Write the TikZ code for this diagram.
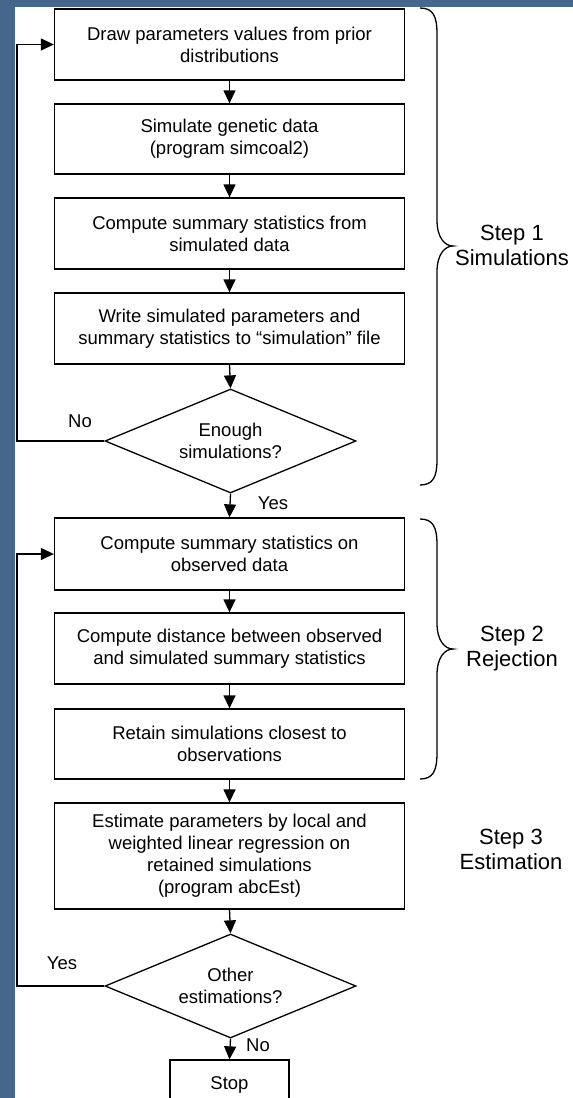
\documentclass[tikz,border=0pt]{standalone}
\usepackage{fontspec}
\setmainfont{Liberation Sans}
\usetikzlibrary{shapes.geometric,arrows.meta}
\definecolor{framecol}{RGB}{70,102,140}
\begin{document}
\begin{tikzpicture}[x=1pt,y=-1pt,
  box/.style={draw, line width=1.3pt, minimum width=350pt, align=center, inner sep=0pt, font=\fontsize{18.5}{22}\selectfont},
  dec/.style={draw, diamond, line width=1.3pt, minimum width=251pt, minimum height=104pt, inner sep=0pt},
  dectext/.style={align=center, inner sep=0pt, font=\fontsize{18.5}{22}\selectfont},
  arr/.style={line width=1.3pt, -{Triangle[length=13pt,width=12pt]}},
  lbl/.style={font=\fontsize{18.5}{22}\selectfont, inner sep=0pt},
  steplbl/.style={font=\fontsize{22}{25}\selectfont, align=center, inner sep=0pt},
  bracestyle/.style={line width=1.3pt}]
\useasboundingbox (0,0) rectangle (573,1098);
\clip (0,0) rectangle (573,1098);
\fill[white] (0,0) rectangle (573,1098);
\fill[framecol] (0,0) rectangle (15,1098);
\fill[framecol] (0,0) rectangle (573,7);

\node[box, minimum height=71pt] (b1) at (229.5,44.5) {Draw parameters values from prior\\distributions};
\node[box, minimum height=70pt] (b2) at (229.5,139) {Simulate genetic data\\(program simcoal2)};
\node[box, minimum height=71pt] (b3) at (229.5,233.5) {Compute summary statistics from\\simulated data};
\node[box, minimum height=71pt] (b4) at (229.5,328.5) {Write simulated parameters and\\summary statistics to “simulation” file};
\node[dec] (d1) at (230.5,441) {};
\node[dectext] (d1t) at (d1.center) {Enough\\simulations?};
\node[box, minimum height=72pt] (b5) at (229.5,554) {Compute summary statistics on\\observed data};
\node[box, minimum height=71pt] (b6) at (229.5,648.5) {Compute distance between observed\\and simulated summary statistics};
\node[box, minimum height=70pt] (b7) at (229.5,744) {Retain simulations closest to\\observations};
\node[box, minimum height=106pt] (b8) at (229.5,856) {Estimate parameters by local and\\weighted linear regression on\\retained simulations\\(program abcEst)};
\node[dec] (d2) at (230.5,986) {};
\node[dectext] (d2t) at (d2.center) {Other\\estimations?};
\node[box, minimum width=119pt, minimum height=50pt] (stop) at (229.5,1085) {Stop};

\draw[arr] (b1.south) -- (b2.north);
\draw[arr] (b2.south) -- (b3.north);
\draw[arr] (b3.south) -- (b4.north);
\draw[arr] (b4.south) -- (d1.north);
\draw[arr] (d1.south) -- (b5.north);
\draw[arr] (b5.south) -- (b6.north);
\draw[arr] (b6.south) -- (b7.north);
\draw[arr] (b7.south) -- (b8.north);
\draw[arr] (b8.south) -- (d2.north);
\draw[arr] (d2.south) -- (stop.north);

\coordinate (fb) at (17,0);
\draw[arr] (d1.west) -- (d1.west -| fb) |- (b1.west);
\draw[arr] (d2.west) -- (d2.west -| fb) |- (b5.west);

\node[lbl] (no1) at (80,421) {No};
\node[lbl] (yes1) at (273,503) {Yes};
\node[lbl] (yes2) at (62,963) {Yes};
\node[lbl] (no2) at (258,1045) {No};

% braces
\draw[bracestyle] (420,8) .. controls (433,8) and (437,16) .. (437,34) -- (437,220) .. controls (437,238) and (445,246) .. (453,246) .. controls (445,246) and (437,254) .. (437,272) -- (437,460) .. controls (437,477) and (433,485) .. (420,485);
\draw[bracestyle] (420,519) .. controls (433,519) and (437,527) .. (437,545) -- (437,623) .. controls (437,641) and (445,649) .. (453,649) .. controls (445,649) and (437,657) .. (437,675) -- (437,753) .. controls (437,771) and (433,779) .. (420,779);

\node[steplbl] (s1) at (512,245) {Step 1\\Simulations};
\node[steplbl] (s2) at (512,649) {Step 2\\Rejection};
\node[steplbl] (s3) at (511,849) {Step 3\\Estimation};
\end{tikzpicture}
\end{document}
